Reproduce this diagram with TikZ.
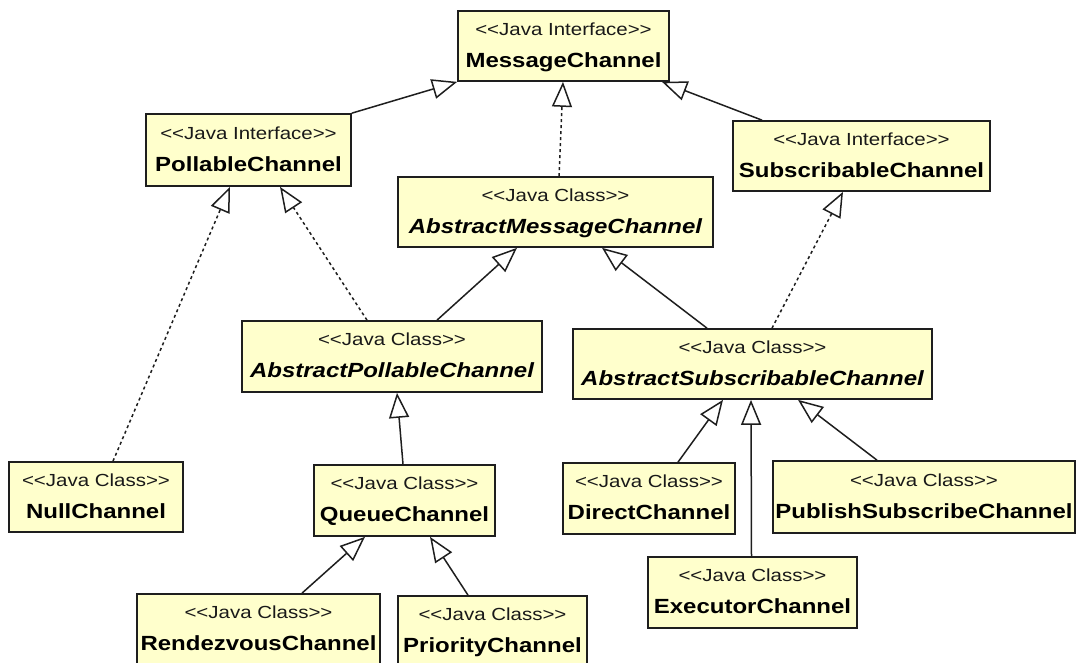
\documentclass[tikz,border=0pt]{standalone}
\usepackage{fontspec}
\usetikzlibrary{arrows.meta,calc}
\newfontfamily\stereofont[FakeStretch=1.17]{Liberation Sans}
\newfontfamily\titlefont[FakeStretch=1.17]{Liberation Sans}
\definecolor{umlyellow}{RGB}{255,255,204}
\definecolor{umlline}{RGB}{30,30,30}
\tikzset{
  cls/.style={draw=umlline, line width=1.7pt, fill=umlyellow, inner sep=0pt},
  st/.style={anchor=base, inner sep=0pt, font=\stereofont\fontsize{17.5}{20}\selectfont, text=black!90},
  tt/.style={anchor=base, inner sep=0pt, font=\titlefont\fontsize{20.5}{24}\selectfont\bfseries},
  gen/.style={draw=umlline, line width=1.5pt, -{Triangle[open,length=25pt,width=20pt]}},
  real/.style={gen, dash pattern=on 3pt off 3pt}
}
\newcommand\umlcls[6]{%
  \node[cls, minimum width=#3, minimum height=#4] (#1) at (#2) {};
  \node[st] (#1-s) at ($(#1.center)+(0,-11)$) {#5};
  \node[tt] (#1-t) at ($(#1.center)+(0,21)$) {#6};
}
\begin{document}
\begin{tikzpicture}[x=1pt,y=-1pt]
\useasboundingbox (0,0) rectangle (1080,662);
\def\JI{<{}<Java Interface>{}>}
\def\JC{<{}<Java Class>{}>}
\umlcls{mc}{563.5,46}{211}{70}{\JI}{MessageChannel}
\umlcls{pc}{248.5,150}{205}{72}{\JI}{PollableChannel}
\umlcls{sc}{861.5,156}{257}{70}{\JI}{SubscribableChannel}
\umlcls{amc}{555.5,212}{315}{70}{\JC}{\itshape AbstractMessageChannel}
\umlcls{apc}{392,356.5}{300}{71}{\JC}{\itshape AbstractPollableChannel}
\umlcls{asc}{752.5,364}{359}{70}{\JC}{\itshape AbstractSubscribableChannel}
\umlcls{nc}{96,497}{174}{70}{\JC}{NullChannel}
\umlcls{qc}{404.5,500.5}{181}{71}{\JC}{QueueChannel}
\umlcls{dc}{649,498.5}{172}{71}{\JC}{DirectChannel}
\umlcls{psc}{924,497}{302}{72}{\JC}{PublishSubscribeChannel}
\umlcls{ec}{752.5,592.5}{209}{71}{\JC}{ExecutorChannel}
\umlcls{rc}{258.5,629}{243}{70}{\JC}{RendezvousChannel}
\umlcls{prc}{492.5,631}{189}{70}{\JC}{PriorityChannel}
% connectors
\draw[gen] (pc.north east) -- (mc.south west);
\draw[gen] ([xshift=-99.5pt]sc.north) -- ([xshift=98.5pt]mc.south);
\draw[real] ([xshift=3.5pt]amc.north) -- ([xshift=-0.5pt]mc.south);
\draw[real] ([xshift=17pt]nc.north) -- ([xshift=-18.5pt]pc.south);
\draw[real] ([xshift=-25pt]apc.north) -- ([xshift=31.5pt]pc.south);
\draw[gen] ([xshift=45pt]apc.north) -- ([xshift=-38.5pt]amc.south);
\draw[gen] ([xshift=-45.5pt]asc.north) -- ([xshift=46.5pt]amc.south);
\draw[real] ([xshift=19.5pt]asc.north) -- ([xshift=-18.5pt]sc.south);
\draw[gen] ([xshift=-1.5pt]qc.north) -- ([xshift=5pt]apc.south);
\draw[gen] ([xshift=43.5pt]rc.north) -- ([xshift=-39.5pt]qc.south);
\draw[gen] ([xshift=-24.5pt]prc.north) -- ([xshift=25.5pt]qc.south);
\draw[gen] ([xshift=29pt]dc.north) -- ([xshift=-29.5pt]asc.south);
\draw[gen] ([xshift=-1pt]ec.north) -- ([xshift=-1.5pt]asc.south);
\draw[gen] ([xshift=-47pt]psc.north) -- ([xshift=45.5pt]asc.south);
\end{tikzpicture}
\end{document}
